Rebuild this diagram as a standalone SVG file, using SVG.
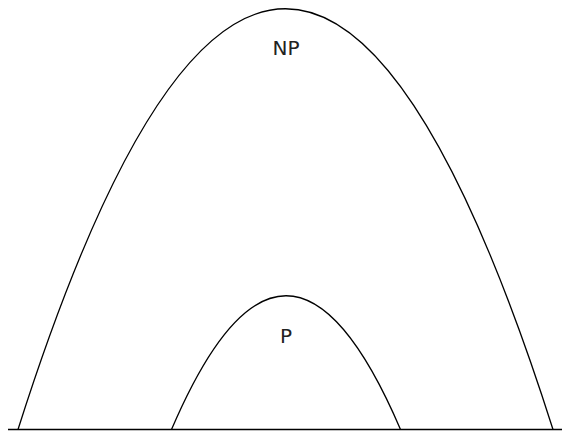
<svg xmlns="http://www.w3.org/2000/svg" width="562" height="431" viewBox="0 0 562 431">
<style>
.c{fill:none;stroke:#000;stroke-width:1.3}
.t{font-family:"DejaVu Sans",sans-serif;font-size:20px;fill:#222;text-anchor:middle}
</style>
<rect width="562" height="431" fill="#fff"/>
<g id="connectors">
<line class="c" x1="8" y1="429.5" x2="562" y2="429.5"/>
</g>
<g id="NP">
<path class="c" d="M18,429.5 Q285.5,-412 553,429.5"/>
<text class="t" x="286" y="55">NP</text>
</g>
<g id="P">
<path class="c" d="M171.5,429.5 Q286,162 400.5,429.5"/>
<text class="t" x="286" y="343">P</text>
</g>
</svg>
